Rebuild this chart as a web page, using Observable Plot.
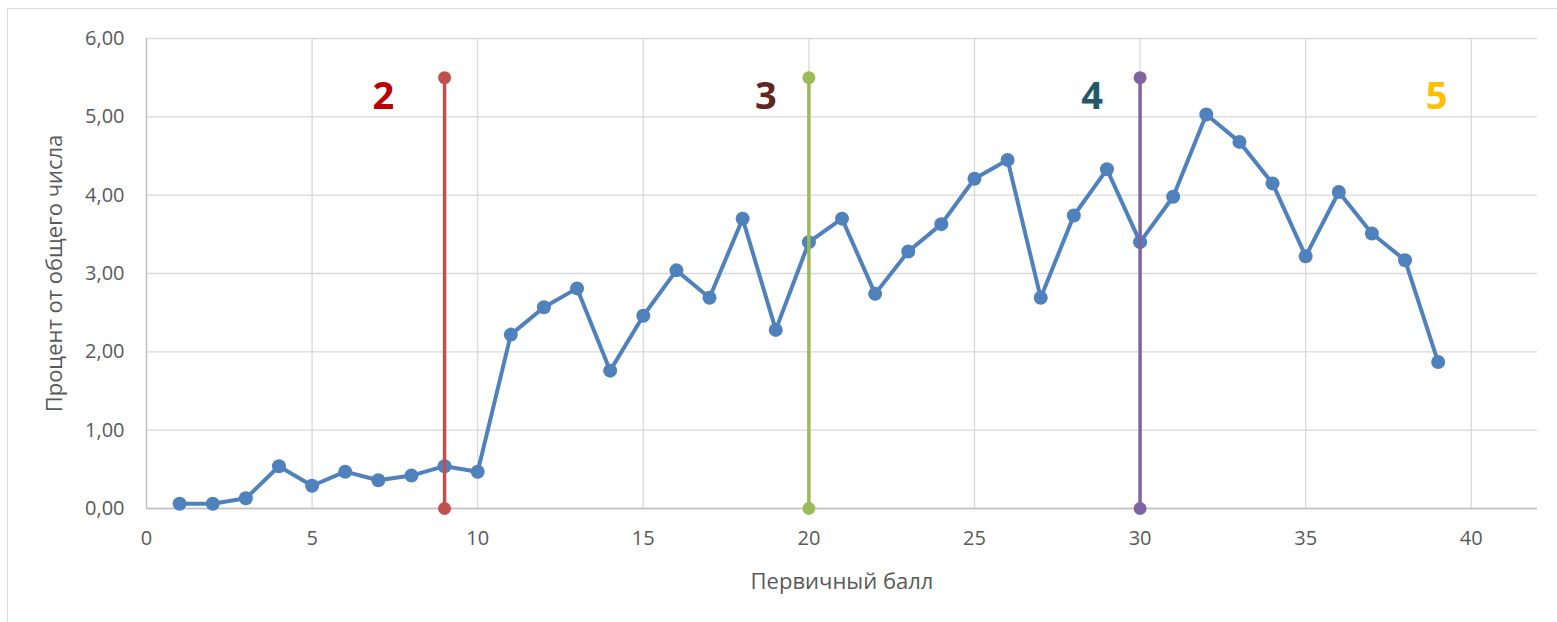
<!DOCTYPE html>
<html>
<head>
<meta charset="utf-8">
<script src="https://cdn.jsdelivr.net/npm/d3@7"></script>
<script src="https://cdn.jsdelivr.net/npm/@observablehq/plot@0.6"></script>
<style>
  html, body { margin: 0; padding: 0; background: #fff; }
  #wrap { position: relative; width: 1557px; height: 622px; overflow: hidden; }
  #border { position: absolute; left: 7px; top: 8px; width: 1600px; height: 700px; border: 1px solid #d9d9d9; box-sizing: border-box; }
  #chart { position: absolute; left: 0; top: 0; }
</style>
</head>
<body>
<div id="wrap"><div id="border"></div><div id="chart"></div></div>
<script>
const scores = [1,2,3,4,5,6,7,8,9,10,11,12,13,14,15,16,17,18,19,20,21,22,23,24,25,26,27,28,29,30,31,32,33,34,35,36,37,38,39];
const percents = [0.06,0.06,0.13,0.54,0.29,0.47,0.36,0.42,0.54,0.47,2.22,2.57,2.81,1.76,2.46,3.04,2.69,3.70,2.28,3.40,3.70,2.74,3.28,3.63,4.21,4.45,2.69,3.74,4.33,3.40,3.98,5.03,4.68,4.15,3.22,4.04,3.51,3.17,1.87];
const cutScores = [9, 20, 30];
const cutColors = ["#C0504D", "#9BBB59", "#8064A2"];
const cutTop = 5.5;
const gradeLabels = ["2", "3", "4", "5"];
const gradeX = [7.15, 18.7, 28.55, 38.95];
const gradeY = [5.25, 5.25, 5.25, 5.25];
const gradeColors = ["#C00000", "#632523", "#215968", "#FFC000"];
const xTicks = [0,5,10,15,20,25,30,35,40];
const yTicks = [0,1,2,3,4,5,6];

const series = scores.map((s, i) => ({x: s, y: percents[i]}));
const cuts = cutScores.map((s, i) => ({x: s, color: cutColors[i], y1: 0, y2: cutTop}));
const cutEnds = cuts.flatMap(c => [{x: c.x, y: c.y1, color: c.color}, {x: c.x, y: c.y2, color: c.color}]);
const grades = gradeLabels.map((g, i) => ({t: g, x: gradeX[i], y: gradeY[i], color: gradeColors[i]}));

const fmt = d => d.toFixed(2).replace(".", ",");

const plot = Plot.plot({
  width: 1557,
  height: 622,
  marginLeft: 146,
  marginRight: 20,
  marginTop: 38,
  marginBottom: 114,
  style: {fontFamily: "'Open Sans', 'Noto Sans', sans-serif", background: "transparent"},
  x: {domain: [0, 42]},
  y: {domain: [0, 6]},
  marks: [
    Plot.gridX(xTicks, {stroke: "#d9d9d9", strokeOpacity: 1, strokeWidth: 1.3}),
    Plot.gridY(yTicks, {stroke: "#d9d9d9", strokeOpacity: 1, strokeWidth: 1.3}),
    Plot.ruleX([0], {stroke: "#bfbfbf", strokeWidth: 1.3}),
    Plot.ruleY([0], {stroke: "#bfbfbf", strokeWidth: 1.5}),
    Plot.axisX({ticks: xTicks, tickSize: 0, tickPadding: 22, fontSize: 20, color: "#595959",
      label: "Первичный балл", labelAnchor: "center", labelArrow: "none", labelOffset: 80}),
    Plot.axisY({ticks: yTicks, tickSize: 0, tickPadding: 22, fontSize: 20, color: "#595959", tickFormat: fmt,
      label: "Процент от общего числа", labelAnchor: "center", labelArrow: "none", labelOffset: 100}),
    Plot.line(series, {x: "x", y: "y", stroke: "#4F81BD", strokeWidth: 4}),
    Plot.dot(series, {x: "x", y: "y", fill: "#4F81BD", r: 7}),
    Plot.ruleX(cuts, {x: "x", y1: "y1", y2: "y2", stroke: "color", strokeWidth: 3.5}),
    Plot.dot(cutEnds, {x: "x", y: "y", fill: "color", r: 6.5}),
    Plot.text(grades, {x: "x", y: "y", text: "t", fill: "color", fontSize: 38, fontWeight: "bold", fontFamily: "'Open Sans', sans-serif"})
  ]
});
plot.querySelectorAll('[aria-label="x-axis label"], [aria-label="y-axis label"]').forEach(g => {
  g.setAttribute("font-size", "22");
  g.querySelectorAll("text").forEach(t => { t.setAttribute("font-size", "22"); t.style.fontSize = "22px"; });
});
document.getElementById("chart").appendChild(plot);
</script>
</body>
</html>
